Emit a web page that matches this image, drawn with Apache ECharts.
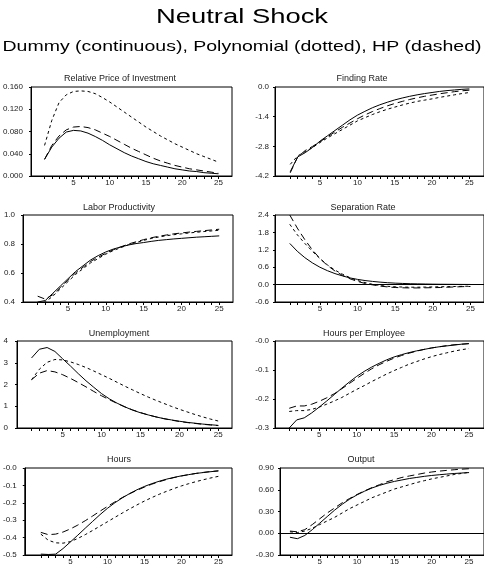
<!DOCTYPE html>
<html>
<head>
<meta charset="utf-8">
<script src="https://cdn.jsdelivr.net/npm/echarts@6/dist/echarts.min.js"></script>
<style>html,body{margin:0;padding:0;background:#fff;}#c{width:484px;height:570px;}</style>
</head>
<body>
<div id="c"></div>
<script>
const periods = [1,2,3,4,5,6,7,8,9,10,11,12,13,14,15,16,17,18,19,20,21,22,23,24,25];
const xTickValues = periods;
const xLabelValues = [5,10,15,20,25];

// Relative Price of Investment
const rpiDummy = [0.030,0.052,0.068,0.079,0.082,0.081,0.077,0.071,0.064,0.056,0.049,0.042,0.036,0.031,0.026,0.022,0.019,0.016,0.013,0.011,0.009,0.008,0.006,0.005,0.004];
const rpiPoly  = [0.030,0.055,0.072,0.083,0.088,0.089,0.087,0.083,0.077,0.071,0.064,0.057,0.050,0.044,0.038,0.032,0.027,0.023,0.019,0.016,0.013,0.011,0.009,0.007,0.005];
const rpiHP    = [0.055,0.100,0.132,0.146,0.152,0.153,0.152,0.148,0.141,0.133,0.124,0.115,0.106,0.097,0.088,0.080,0.072,0.065,0.058,0.052,0.046,0.040,0.035,0.030,0.025];
// Finding Rate
const frDummy = [-4.0,-3.3,-3.1,-2.85,-2.55,-2.3,-2.05,-1.8,-1.55,-1.33,-1.15,-0.98,-0.84,-0.72,-0.61,-0.52,-0.44,-0.37,-0.31,-0.26,-0.21,-0.17,-0.14,-0.11,-0.09];
const frPoly  = [-4.05,-3.3,-3.0,-2.8,-2.58,-2.35,-2.12,-1.9,-1.7,-1.5,-1.32,-1.16,-1.02,-0.89,-0.78,-0.68,-0.59,-0.51,-0.44,-0.38,-0.32,-0.27,-0.22,-0.18,-0.15];
const frHP    = [-3.65,-3.25,-3.05,-2.85,-2.62,-2.4,-2.2,-2.0,-1.8,-1.6,-1.45,-1.3,-1.17,-1.05,-0.95,-0.85,-0.76,-0.68,-0.62,-0.56,-0.49,-0.43,-0.37,-0.31,-0.26];
// Labor Productivity
const lpDummy = [0.40,0.41,0.46,0.51,0.56,0.61,0.65,0.69,0.72,0.745,0.765,0.78,0.793,0.803,0.81,0.818,0.825,0.83,0.835,0.839,0.843,0.847,0.85,0.853,0.856];
const lpPoly  = [0.44,0.42,0.45,0.50,0.55,0.60,0.64,0.68,0.71,0.735,0.76,0.78,0.80,0.815,0.83,0.843,0.853,0.862,0.87,0.876,0.882,0.887,0.892,0.897,0.902];
const lpHP    = [0.39,0.40,0.44,0.49,0.54,0.59,0.63,0.67,0.70,0.73,0.755,0.775,0.795,0.81,0.825,0.838,0.848,0.857,0.864,0.87,0.876,0.881,0.886,0.89,0.895];
// Separation Rate
const srDummy = [1.42,1.15,0.93,0.75,0.60,0.48,0.38,0.30,0.23,0.18,0.14,0.11,0.085,0.065,0.05,0.04,0.03,0.025,0.02,0.015,0.012,0.01,0.008,0.006,0.005];
const srPoly  = [2.40,1.95,1.55,1.20,0.90,0.66,0.47,0.32,0.20,0.11,0.04,-0.01,-0.05,-0.08,-0.10,-0.11,-0.115,-0.115,-0.11,-0.105,-0.10,-0.09,-0.08,-0.07,-0.065];
const srHP    = [2.08,1.72,1.42,1.15,0.90,0.68,0.50,0.36,0.24,0.14,0.07,0.01,-0.03,-0.06,-0.075,-0.085,-0.09,-0.09,-0.085,-0.08,-0.075,-0.07,-0.065,-0.06,-0.055];
// Unemployment
const unDummy = [3.22,3.62,3.70,3.52,3.18,2.85,2.50,2.17,1.87,1.58,1.34,1.14,0.97,0.82,0.70,0.60,0.51,0.43,0.37,0.31,0.26,0.22,0.18,0.15,0.12];
const unPoly  = [2.22,2.52,2.64,2.58,2.45,2.28,2.09,1.89,1.68,1.48,1.30,1.13,0.97,0.83,0.71,0.60,0.51,0.43,0.36,0.30,0.25,0.21,0.17,0.14,0.11];
const unHP    = [2.22,2.70,3.02,3.15,3.13,3.04,2.92,2.78,2.62,2.45,2.28,2.10,1.92,1.75,1.58,1.42,1.27,1.13,0.99,0.86,0.74,0.62,0.51,0.41,0.32];
// Hours per Employee
const hpeDummy = [-0.300,-0.272,-0.265,-0.248,-0.228,-0.207,-0.185,-0.163,-0.142,-0.122,-0.105,-0.090,-0.077,-0.065,-0.055,-0.047,-0.040,-0.034,-0.029,-0.024,-0.020,-0.017,-0.014,-0.011,-0.009];
const hpePoly  = [-0.232,-0.224,-0.224,-0.218,-0.208,-0.196,-0.182,-0.165,-0.147,-0.129,-0.112,-0.096,-0.082,-0.070,-0.059,-0.050,-0.042,-0.035,-0.029,-0.024,-0.020,-0.016,-0.013,-0.011,-0.009];
const hpeHP    = [-0.243,-0.240,-0.240,-0.236,-0.228,-0.218,-0.207,-0.195,-0.181,-0.167,-0.154,-0.140,-0.127,-0.114,-0.102,-0.091,-0.080,-0.071,-0.062,-0.054,-0.047,-0.041,-0.035,-0.030,-0.026];
// Hours
const hDummy = [-0.495,-0.497,-0.495,-0.463,-0.425,-0.386,-0.346,-0.307,-0.268,-0.232,-0.200,-0.172,-0.147,-0.125,-0.106,-0.090,-0.076,-0.064,-0.054,-0.045,-0.038,-0.031,-0.026,-0.021,-0.017];
const hPoly  = [-0.370,-0.383,-0.380,-0.368,-0.350,-0.328,-0.303,-0.276,-0.248,-0.221,-0.195,-0.170,-0.148,-0.128,-0.110,-0.093,-0.079,-0.066,-0.055,-0.046,-0.038,-0.031,-0.025,-0.020,-0.016];
const hHP    = [-0.380,-0.415,-0.430,-0.432,-0.423,-0.405,-0.383,-0.359,-0.334,-0.309,-0.284,-0.259,-0.235,-0.212,-0.190,-0.170,-0.151,-0.134,-0.118,-0.103,-0.090,-0.078,-0.067,-0.057,-0.048];
// Output
const outDummy = [-0.055,-0.075,-0.03,0.05,0.14,0.23,0.32,0.40,0.47,0.53,0.58,0.625,0.66,0.69,0.715,0.735,0.755,0.77,0.785,0.797,0.807,0.816,0.824,0.831,0.837];
const outPoly  = [0.03,0.02,0.05,0.12,0.20,0.28,0.35,0.42,0.48,0.535,0.585,0.63,0.67,0.71,0.74,0.77,0.79,0.81,0.83,0.845,0.857,0.867,0.876,0.884,0.89];
const outHP    = [0.02,0.01,0.03,0.07,0.12,0.17,0.22,0.28,0.34,0.39,0.44,0.49,0.53,0.57,0.61,0.64,0.67,0.70,0.725,0.75,0.77,0.79,0.81,0.825,0.84];

const panelTitles = ['Relative Price of Investment','Finding Rate','Labor Productivity','Separation Rate','Unemployment','Hours per Employee','Hours','Output'];

const FONT = '"Liberation Sans", Arial, Helvetica, sans-serif';

const panels = [
  {d:[rpiDummy,rpiPoly,rpiHP], g:[30,87,202,89], x:[-0.87,26.88], y:[0,0.16,0.04], f:v=>v.toFixed(3), m:8, zero:false, tx:120, ty:79},
  {d:[frDummy,frPoly,frHP], g:[275,87,210,89], x:[-1.04,26.96], y:[-4.2,0,1.4], f:v=>(Math.abs(v)<1e-9?'0.0':v.toFixed(1)), m:6, zero:false, tx:362, ty:79},
  {d:[lpDummy,lpPoly,lpHP], g:[23,215,210,87], x:[-0.94,26.82], y:[0.4,1.0,0.2], f:v=>v.toFixed(1), m:8, zero:false, tx:119, ty:208},
  {d:[srDummy,srPoly,srHP], g:[275,215,210,87], x:[-0.96,26.8], y:[-0.6,2.4,0.6], f:v=>(Math.abs(v)<1e-9?'0.0':v.toFixed(1)), m:6, zero:true, tx:363, ty:208},
  {d:[unDummy,unPoly,unHP], g:[17,341,215,87], x:[-0.87,26.76], y:[0,4,1], f:v=>String(Math.round(v)), m:9, zero:false, tx:119, ty:334},
  {d:[hpeDummy,hpePoly,hpeHP], g:[275,341,210,87], x:[-0.9,27], y:[-0.3,0,0.1], f:v=>(Math.abs(v)<1e-9?'-0.0':v.toFixed(1)), m:6, zero:false, tx:364, ty:334},
  {d:[hDummy,hPoly,hHP], g:[23,468,209,87], x:[-1.17,26.84], y:[-0.5,0,0.1], f:v=>(Math.abs(v)<1e-9?'-0.0':v.toFixed(1)), m:8, zero:false, tx:119, ty:460},
  {d:[outDummy,outPoly,outHP], g:[280,468,205,87], x:[-0.33,27], y:[-0.3,0.9,0.3], f:v=>(Math.abs(v)<1e-9?'0.00':v.toFixed(2)), m:6, zero:true, tx:361, ty:460}
];

const lineTypes = ['solid',[7,4],[3,3]];
const names = ['Dummy','Polynomial','HP'];

const grid = [], xAxis = [], yAxis = [], series = [], title = [];
panels.forEach((p, i) => {
  grid.push({left:p.g[0], top:p.g[1], width:p.g[2], height:p.g[3], show:true, borderColor:'#000', borderWidth:1, backgroundColor:'transparent'});
  xAxis.push({
    type:'value', gridIndex:i, min:p.x[0], max:p.x[1],
    axisLine:{show:true, onZero:false, lineStyle:{color:'#000', width:1}},
    axisTick:{show:true, customValues:xTickValues, length:3, lineStyle:{color:'#000', width:1}},
    axisLabel:{show:true, customValues:xLabelValues, fontSize:8, color:'#222', margin:3, fontFamily:FONT},
    splitLine:{show:false}
  });
  yAxis.push({
    type:'value', gridIndex:i, min:p.y[0], max:p.y[1], interval:p.y[2],
    axisLine:{show:true, onZero:false, lineStyle:{color:'#000', width:1}},
    axisTick:{show:true, length:2, lineStyle:{color:'#000'}},
    axisLabel:{fontSize:8, color:'#222', margin:p.m, formatter:p.f, fontFamily:FONT, showMinLabel:true, showMaxLabel:true},
    splitLine:{show:false}
  });
  p.d.forEach((arr, k) => {
    const s = {
      name:names[k], type:'line', xAxisIndex:i, yAxisIndex:i,
      data: periods.map((t, j) => [t, arr[j]]),
      showSymbol:false, symbol:'none', silent:true,
      lineStyle:{color:'#000', width:1, type:lineTypes[k]},
      z: 3 - k
    };
    if (k === 0 && p.zero) {
      s.markLine = {silent:true, symbol:['none','none'], label:{show:false},
        lineStyle:{color:'#000', width:1, type:'solid'}, data:[{yAxis:0}], animation:false};
    }
    series.push(s);
  });
  title.push({text:panelTitles[i], left:p.tx, top:p.ty - 5, textAlign:'center', padding:0,
    textStyle:{fontSize:9, fontWeight:'normal', color:'#222', fontFamily:FONT}});
});

const chart = echarts.init(document.getElementById('c'), null, {renderer:'canvas'});
chart.setOption({
  animation:false,
  backgroundColor:'#fff',
  title: title,
  grid: grid, xAxis: xAxis, yAxis: yAxis, series: series,
  graphic: [
    {type:'text', x:242, y:17, scaleX:1.37, scaleY:1,
      style:{text:'Neutral Shock', fontSize:20, fontFamily:FONT, fill:'#000', textAlign:'center', textVerticalAlign:'middle'}},
    {type:'text', x:242, y:47, scaleX:1.3, scaleY:1,
      style:{text:'Dummy (continuous), Polynomial (dotted), HP (dashed)', fontSize:15, fontFamily:FONT, fill:'#000', textAlign:'center', textVerticalAlign:'middle'}}
  ]
});
</script>
</body>
</html>
